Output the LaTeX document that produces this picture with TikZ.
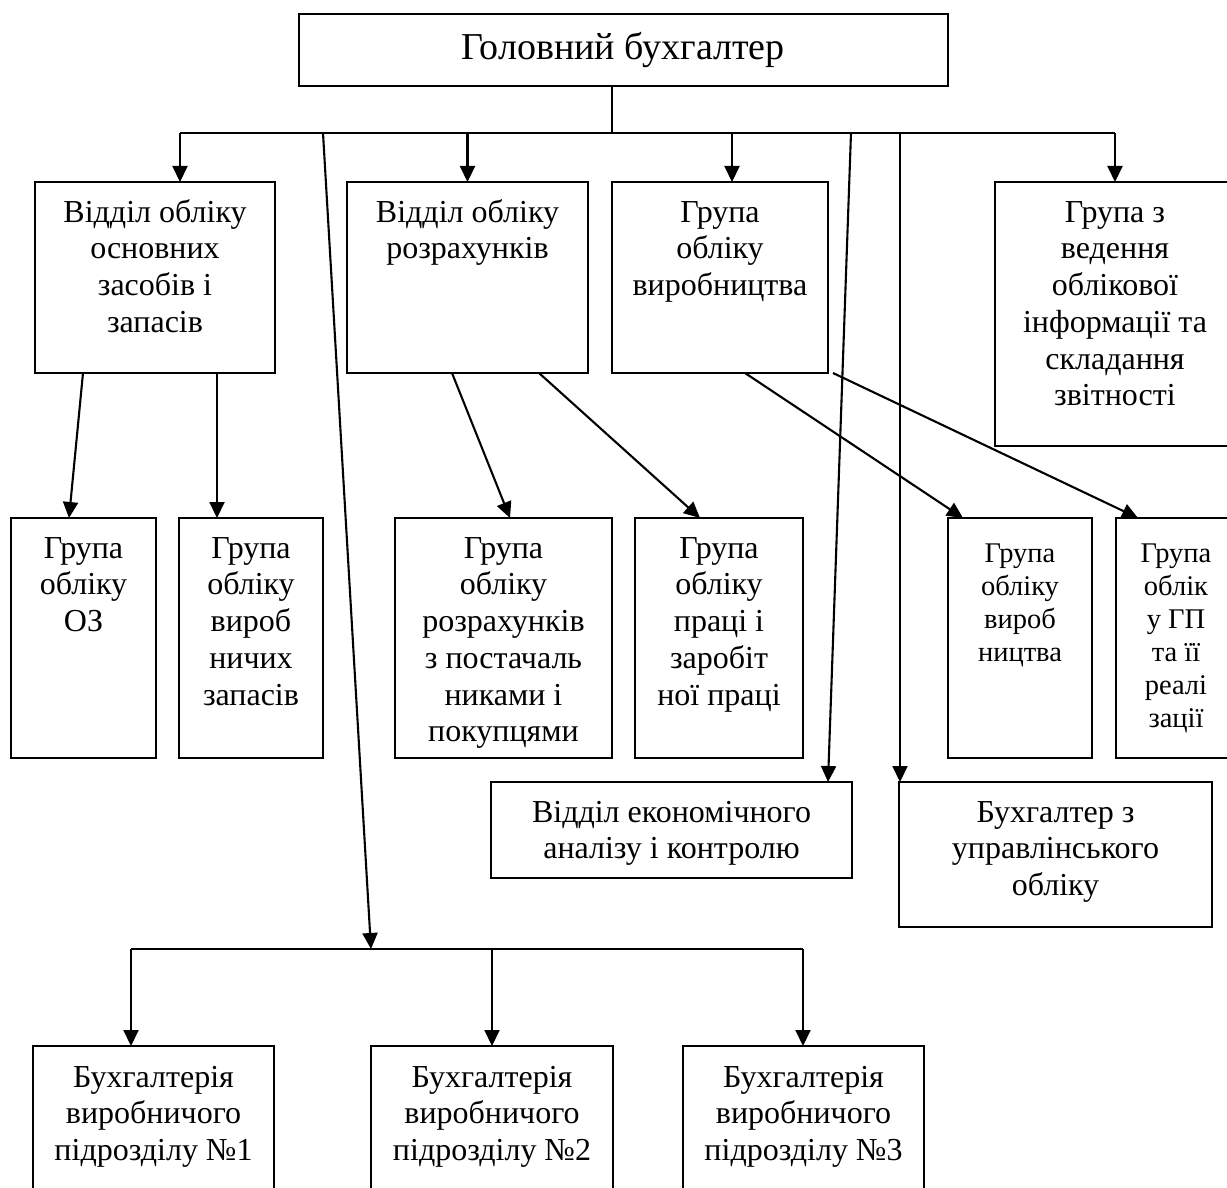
\documentclass[tikz,border=0pt]{standalone}
\usepackage{fontspec}
\setmainfont{Liberation Serif}
\usetikzlibrary{arrows.meta,calc}
\tikzset{
  boxs/.style={draw, line width=1.9pt, inner sep=0pt, outer sep=0pt, anchor=north west},
  txt/.style={inner sep=0pt, align=center, anchor=north, font=\fontsize{32}{36.7}\selectfont},
  sml/.style={font=\fontsize{28.5}{33}\selectfont},
  conn/.style={line width=2.1pt},
  thinconn/.style={line width=1.4pt},
  arr/.style={line width=2.1pt, -{Triangle[length=16pt,width=15pt]}},
}
% [text style]{x1}{y1}{x2}{y2}{name}{first baseline}{text}
\newcommand\orgbox[8][]{%
  \node[boxs, minimum width={#4-#2}, minimum height={#5-#3}] (#6) at (#2,#3) {};
  \node[txt,#1] (#6-t) at (#6.north) {\rule{0pt}{#7pt}#8};
}
\begin{document}
\begin{tikzpicture}[x=1pt,y=-1pt]
\useasboundingbox (0,0) rectangle (1227,1188);
\clip (0,0) rectangle (1227,1188);

% top box
\node[boxs, minimum width=649, minimum height=72] (top) at (299,14) {};
\node[inner sep=0pt, anchor=base, font=\fontsize{38}{44}\selectfont] (top-t) at (623,60) {Головний бухгалтер};

% level 1
\orgbox{35}{182}{275}{373}{B1}{40}{Відділ обліку\\основних\\засобів і\\запасів}
\orgbox{347}{182}{588}{373}{B2}{40}{Відділ обліку\\розрахунків}
\orgbox{612}{182}{828}{373}{B3}{40}{Група\\обліку\\виробництва}
\orgbox{995}{182}{1235}{446}{B4}{40}{Група з\\ведення\\облікової\\інформації та\\складання\\звітності}

% level 2
\orgbox{11}{518}{156}{758}{C1}{40}{Група\\обліку\\ОЗ}
\orgbox{179}{518}{323}{758}{C2}{40}{Група\\обліку\\вироб\\ничих\\запасів}
\orgbox{395}{518}{612}{758}{C3}{40}{Група\\обліку\\розрахунків\\з постачаль\\никами і\\покупцями}
\orgbox{635}{518}{803}{758}{C4}{40}{Група\\обліку\\праці і\\заробіт\\ної праці}
\orgbox[sml]{948}{518}{1092}{758}{C5}{44}{Група\\обліку\\вироб\\ництва}
\orgbox[sml]{1116}{518}{1236}{758}{C6}{44}{Група\\облік\\у ГП\\та її\\реалі\\зації}

% level 3
\orgbox{491}{782}{852}{878}{D1}{40}{Відділ економічного\\аналізу і контролю}
\orgbox{899}{782}{1212}{927}{D2}{40}{Бухгалтер з\\управлінського\\обліку}

% bottom
\orgbox{33}{1046}{274}{1210}{E1}{41}{Бухгалтерія\\виробничого\\підрозділу №1}
\orgbox{371}{1046}{613}{1210}{E2}{41}{Бухгалтерія\\виробничого\\підрозділу №2}
\orgbox{683}{1046}{924}{1210}{E3}{41}{Бухгалтерія\\виробничого\\підрозділу №3}

% bus from top
\coordinate (stem) at (612,133);
\coordinate (barL) at (180,133);
\coordinate (barR) at (1115,133);
\coordinate (a3) at (732,133);
\coordinate (l1) at (323,133);
\coordinate (l2) at (851,133);
\coordinate (l3) at (900,133);
\draw[thinconn] (top.south -| stem) -- (stem);
\draw[conn] (barL) -- (barR);
\draw[arr] (barL) -- (barL |- B1.north);
\draw[arr] (B2.north |- barL) -- (B2.north);
\draw[arr] (a3) -- (a3 |- B3.north);
\draw[arr] (barR) -- (B4.north);

% bottom bus
\coordinate (b2L) at (131,949);
\coordinate (b2R) at (803,949);
\coordinate (b2T) at (371,949);
\draw[conn] (b2L) -- (b2R);
\draw[arr] (b2L) -- (b2L |- E1.north);
\draw[arr] (E2.north |- b2L) -- (E2.north);
\draw[arr] (b2R) -- (b2R |- E3.north);

% long lines
\draw[arr] (l1) -- (b2T);
\draw[arr] (l2) -- ($(D1.north east)+(-24,0)$);
\draw[arr] (l3) -- (l3 |- D2.north);

% diagonal arrows
\draw[arr] ($(B1.south west)+(48,0)$) -- ($(C1.north west)+(58,0)$);
\draw[arr] ($(B1.south west)+(182,0)$) -- ($(C2.north west)+(38,0)$);
\draw[arr] ($(B2.south west)+(105,0)$) -- ($(C3.north west)+(115,0)$);
\draw[arr] ($(B2.south west)+(192,0)$) -- ($(C4.north west)+(65,0)$);
\draw[arr] ($(B3.south west)+(133,0)$) -- ($(C5.north west)+(15,0)$);
\draw[arr] ($(B3.south east)+(5,0)$) -- ($(C6.north west)+(22,0)$);
\end{tikzpicture}
\end{document}
